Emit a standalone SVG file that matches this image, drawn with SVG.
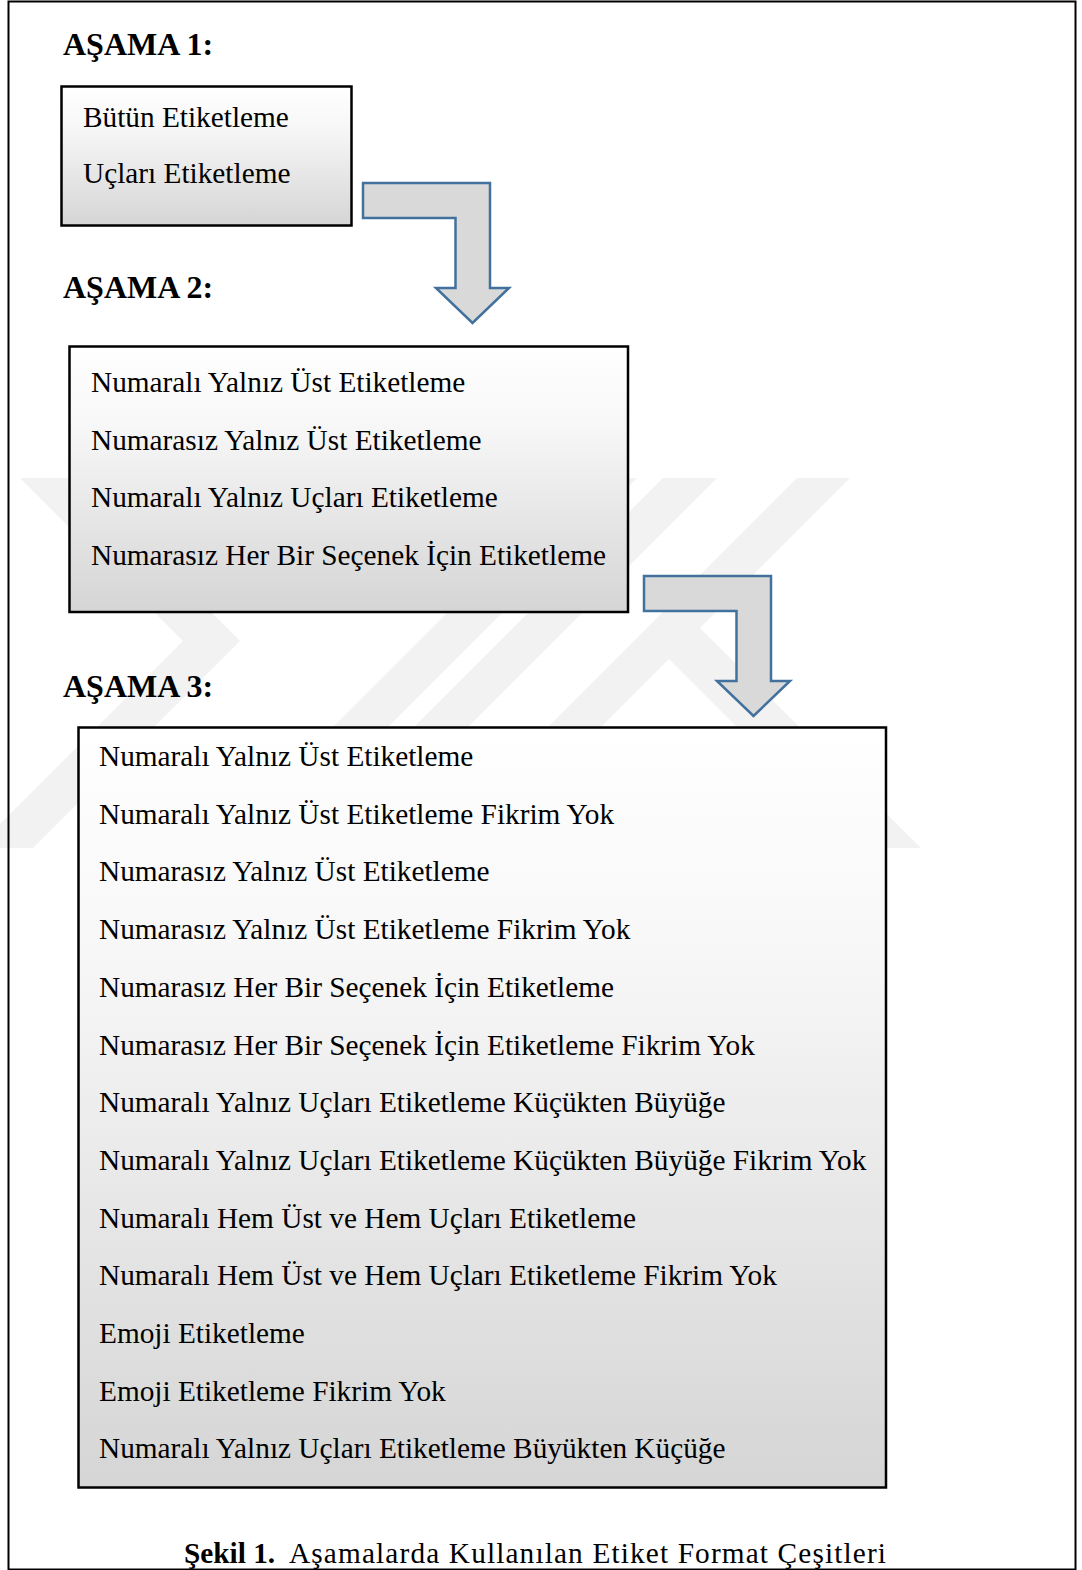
<svg xmlns="http://www.w3.org/2000/svg" width="1082" height="1570" viewBox="0 0 1082 1570">
<style>
.hdr{font-family:"Liberation Serif","Times New Roman",serif;font-weight:bold;font-size:32px;fill:#000}
.txt{font-family:"Liberation Serif","Times New Roman",serif;font-size:29.3px;fill:#000}
.box{fill:url(#g);stroke:#000;stroke-width:2.5}
.arr{fill:#d9d9d9;stroke:#41719c;stroke-width:2.5;stroke-linejoin:miter}
.wm{fill:#f2f2f2}
</style>
<defs>
<linearGradient id="g" x1="0" y1="0" x2="0" y2="1">
<stop offset="0" stop-color="#ffffff"/>
<stop offset="0.3" stop-color="#f7f7f7"/>
<stop offset="1" stop-color="#d5d5d5"/>
</linearGradient>
<path id="bent" d="M363,183 L490,183 L490,288 L509,288 L472.5,323 L436,288 L455.5,288 L455.5,218 L363,218 Z"/>
</defs>
<rect x="0" y="0" width="1082" height="1570" fill="#fff"/>
<g id="watermark">
<polygon class="wm" points="20,478 77,478 240,641 33,848 -24,848 183,641"/>
<polygon class="wm" points="582,478 637,478 267,848 212,848"/>
<polygon class="wm" points="663,478 717,478 347,848 293,848"/>
<polygon class="wm" points="797,478 850,478 480,848 427,848"/>
<polygon class="wm" points="667,657 698,626 921,848 858,848"/>
</g>
<rect x="8.5" y="1.5" width="1067" height="1568" fill="none" stroke="#000" stroke-width="2"/>
<g id="headers">
<text class="hdr" x="63" y="55">AŞAMA 1:</text>
<text class="hdr" x="63" y="298">AŞAMA 2:</text>
<text class="hdr" x="63" y="697">AŞAMA 3:</text>
</g>
<g id="connectors">
<use href="#bent" class="arr"/>
<use href="#bent" class="arr" transform="translate(281,393)"/>
</g>
<g id="box1">
<rect class="box" x="61.5" y="86.5" width="290" height="139"/>
<text class="txt" x="83" y="127">Bütün Etiketleme</text>
<text class="txt" x="83" y="183">Uçları Etiketleme</text>
</g>
<g id="box2">
<rect class="box" x="69.5" y="346.5" width="558.5" height="265.5"/>
<text class="txt" x="91" y="392">Numaralı Yalnız Üst Etiketleme</text>
<text class="txt" x="91" y="449.5">Numarasız Yalnız Üst Etiketleme</text>
<text class="txt" x="91" y="507">Numaralı Yalnız Uçları Etiketleme</text>
<text class="txt" x="91" y="564.5">Numarasız Her Bir Seçenek İçin Etiketleme</text>
</g>
<g id="box3">
<rect class="box" x="78.5" y="727.5" width="807.5" height="760"/>
<text class="txt" x="99" y="766">Numaralı Yalnız Üst Etiketleme</text>
<text class="txt" x="99" y="823.7">Numaralı Yalnız Üst Etiketleme Fikrim Yok</text>
<text class="txt" x="99" y="881.4">Numarasız Yalnız Üst Etiketleme</text>
<text class="txt" x="99" y="939.1">Numarasız Yalnız Üst Etiketleme Fikrim Yok</text>
<text class="txt" x="99" y="996.8">Numarasız Her Bir Seçenek İçin Etiketleme</text>
<text class="txt" x="99" y="1054.5">Numarasız Her Bir Seçenek İçin Etiketleme Fikrim Yok</text>
<text class="txt" x="99" y="1112.2">Numaralı Yalnız Uçları Etiketleme Küçükten Büyüğe</text>
<text class="txt" x="99" y="1169.9">Numaralı Yalnız Uçları Etiketleme Küçükten Büyüğe Fikrim Yok</text>
<text class="txt" x="99" y="1227.6">Numaralı Hem Üst ve Hem Uçları Etiketleme</text>
<text class="txt" x="99" y="1285.3">Numaralı Hem Üst ve Hem Uçları Etiketleme Fikrim Yok</text>
<text class="txt" x="99" y="1343">Emoji Etiketleme</text>
<text class="txt" x="99" y="1400.7">Emoji Etiketleme Fikrim Yok</text>
<text class="txt" x="99" y="1458.4">Numaralı Yalnız Uçları Etiketleme Büyükten Küçüğe</text>
</g>
<g id="caption">
<text class="txt" x="184" y="1563" font-size="30.5" font-weight="bold">Şekil 1.</text>
<text class="txt" x="289" y="1563" font-size="32.5" textLength="597" lengthAdjust="spacing">Aşamalarda Kullanılan Etiket Format Çeşitleri</text>
</g>
</svg>
